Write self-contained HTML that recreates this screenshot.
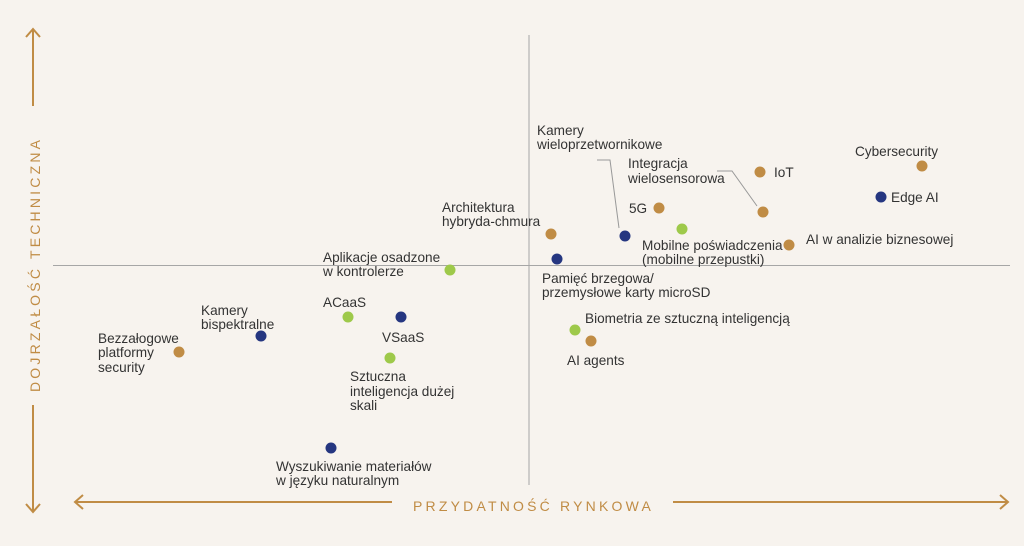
<!DOCTYPE html>
<html><head><meta charset="utf-8"><style>
html,body{margin:0;padding:0;background:#f7f3ee;}
svg{display:block;}
text{font-family:"Liberation Sans",sans-serif;font-size:13.6px;fill:#333;}
.ax{fill:#c08c45;font-size:14px;letter-spacing:3.2px;}
</style></head><body>
<svg width="1024" height="546" viewBox="0 0 1024 546" xmlns="http://www.w3.org/2000/svg">
<rect width="1024" height="546" fill="#f7f3ee"/>
<line x1="529" y1="35" x2="529" y2="485" stroke="#a6a6a6" stroke-width="1"/>
<line x1="53" y1="265.5" x2="1010" y2="265.5" stroke="#a6a6a6" stroke-width="1"/>
<g stroke="#c08c45" stroke-width="2" fill="none">
<line x1="33" y1="29" x2="33" y2="106"/><polyline points="26,37 33,29 40,37"/>
<line x1="33" y1="405" x2="33" y2="512"/><polyline points="26,504 33,512 40,504"/>
<line x1="75" y1="502" x2="392" y2="502"/><polyline points="83,495 75,502 83,509"/>
<line x1="673" y1="502" x2="1008" y2="502"/><polyline points="1000,495 1008,502 1000,509"/>
</g>
<text class="ax" x="413" y="511">PRZYDATNOŚĆ RYNKOWA</text>
<text class="ax" transform="translate(40,392) rotate(-90)">DOJRZAŁOŚĆ TECHNICZNA</text>
<g stroke="#999" stroke-width="1" fill="none">
<polyline points="597,160 610,160 619,228"/>
<polyline points="717,171 732,171 757,206"/>
</g>
<g>
<circle cx="922" cy="166" r="5.5" fill="#c08c45"/>
<circle cx="881" cy="197" r="5.5" fill="#253680"/>
<circle cx="760" cy="172" r="5.5" fill="#c08c45"/>
<circle cx="763" cy="212" r="5.5" fill="#c08c45"/>
<circle cx="789" cy="245" r="5.5" fill="#c08c45"/>
<circle cx="659" cy="208" r="5.5" fill="#c08c45"/>
<circle cx="682" cy="229" r="5.5" fill="#9ec94a"/>
<circle cx="625" cy="236" r="5.5" fill="#253680"/>
<circle cx="551" cy="234" r="5.5" fill="#c08c45"/>
<circle cx="557" cy="259" r="5.5" fill="#253680"/>
<circle cx="450" cy="270" r="5.5" fill="#9ec94a"/>
<circle cx="575" cy="330" r="5.5" fill="#9ec94a"/>
<circle cx="591" cy="341" r="5.5" fill="#c08c45"/>
<circle cx="348" cy="317" r="5.5" fill="#9ec94a"/>
<circle cx="401" cy="317" r="5.5" fill="#253680"/>
<circle cx="390" cy="358" r="5.5" fill="#9ec94a"/>
<circle cx="261" cy="336" r="5.5" fill="#253680"/>
<circle cx="179" cy="352" r="5.5" fill="#c08c45"/>
<circle cx="331" cy="448" r="5.5" fill="#253680"/>
</g>
<text x="855" y="156">Cybersecurity</text>
<text x="891" y="202">Edge AI</text>
<text x="774" y="177">IoT</text>
<text x="806" y="244">AI w analizie biznesowej</text>
<text x="628" y="168">Integracja</text>
<text x="628" y="183">wielosensorowa</text>
<text x="537" y="135">Kamery</text>
<text x="537" y="149">wieloprzetwornikowe</text>
<text x="629" y="213">5G</text>
<text x="642" y="250">Mobilne poświadczenia</text>
<text x="642" y="264">(mobilne przepustki)</text>
<text x="442" y="212">Architektura</text>
<text x="442" y="226">hybryda-chmura</text>
<text x="542" y="283">Pamięć brzegowa/</text>
<text x="542" y="297">przemysłowe karty microSD</text>
<text x="323" y="262">Aplikacje osadzone</text>
<text x="323" y="276">w kontrolerze</text>
<text x="585" y="323">Biometria ze sztuczną inteligencją</text>
<text x="567" y="365">AI agents</text>
<text x="323" y="307">ACaaS</text>
<text x="382" y="342">VSaaS</text>
<text x="350" y="381">Sztuczna</text>
<text x="350" y="396">inteligencja dużej</text>
<text x="350" y="410">skali</text>
<text x="201" y="315">Kamery</text>
<text x="201" y="329">bispektralne</text>
<text x="98" y="343">Bezzałogowe</text>
<text x="98" y="357">platformy</text>
<text x="98" y="372">security</text>
<text x="276" y="471">Wyszukiwanie materiałów</text>
<text x="276" y="485">w języku naturalnym</text>
</svg>
</body></html>
